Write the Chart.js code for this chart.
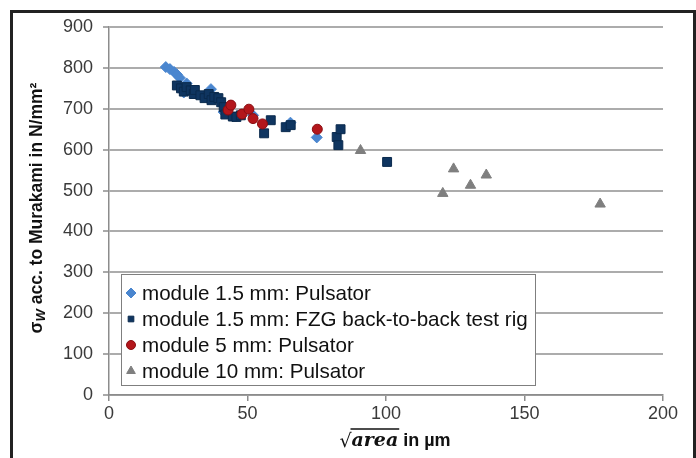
<!DOCTYPE html>
<html>
<head>
<meta charset="utf-8">
<script src="https://cdn.jsdelivr.net/npm/chart.js@4.4.0/dist/chart.umd.min.js"></script>
<style>
  html, body { margin: 0; padding: 0; background: #fff; overflow: hidden; }
  #wrap { position: relative; width: 696px; height: 458px; }
  #frame { position: absolute; left: 10px; top: 10px; width: 680px; height: 500px; border: 3px solid #222; pointer-events: none; }
</style>
</head>
<body>
<div id="wrap">
  <canvas id="chart" width="696" height="458"></canvas>
  <div id="frame"></div>
</div>
<script>
// data: [sqrt(area) in µm, sigma_W in N/mm²]
const pulsator15 = [[20.5, 802], [22, 797], [23.5, 790], [24.5, 784], [25.5, 776], [27, 740], [28, 762], [36.8, 748], [41.4, 692], [52, 684], [65.5, 666], [75, 630]];
const fzg15 = [[24.5, 757], [26, 750], [27, 742], [28, 753], [29.5, 745], [30.6, 736], [31, 746], [33, 733], [34.5, 726], [36, 736], [37, 721], [38, 729], [39.5, 726], [40.5, 716], [41.4, 704], [42, 686], [44.7, 681], [46, 680], [47.6, 684], [56, 640], [58.4, 672], [63.8, 655], [65.6, 660], [82.2, 631], [82.8, 611], [83.6, 650], [100.4, 570]];
const pulsator5 = [[43, 697], [44, 709], [48, 687], [50.5, 699], [52, 676], [55.4, 663], [75.2, 650]];
const pulsator10 = [[90.8, 598], [120.5, 493], [124.4, 553], [130.5, 513], [136.2, 538], [177.3, 467]];

const seriesNames = ["module 1.5 mm: Pulsator", "module 1.5 mm: FZG back-to-back test rig", "module 5 mm: Pulsator", "module 10 mm: Pulsator"];
const xTicks = [0, 50, 100, 150, 200];
const yTicks = [0, 100, 200, 300, 400, 500, 600, 700, 800, 900];

const toPts = arr => arr.map(p => ({ x: p[0], y: p[1] }));
const styles = [
  { pointStyle: "rectRot", color: "#4a86cf", border: "#4a86cf", radius: 5.5 },
  { pointStyle: "rect", color: "#0f3560", border: "#0a2a4d", radius: 6.3 },
  { pointStyle: "circle", color: "#b3161b", border: "#8a0e12", radius: 5 },
  { pointStyle: "triangle", color: "#7f7f7f", border: "#7f7f7f", radius: 6 }
];
const allData = [pulsator15, fzg15, pulsator5, pulsator10];

const datasets = allData.map((d, i) => ({
  label: seriesNames[i],
  data: toPts(d),
  pointStyle: styles[i].pointStyle,
  backgroundColor: styles[i].color,
  borderColor: styles[i].border,
  borderWidth: 1,
  pointRadius: styles[i].radius,
  order: 4 - i
}));

const FONT = "'Liberation Sans', Arial, sans-serif";

// axis titles + legend box drawn on the canvas
const extras = {
  id: "extras",
  afterDraw(chart) {
    const ctx = chart.ctx;
    ctx.save();

    // y title: σ_W acc. to Murakami in N/mm²
    ctx.translate(37, 208);
    ctx.rotate(-Math.PI / 2);
    ctx.fillStyle = "#111";
    ctx.textBaseline = "middle";
    const fMain = "bold 17.5px " + FONT;
    const fSub = "italic bold 13px " + FONT;
    const rest = " acc. to Murakami in N/mm²";
    ctx.font = fMain;
    const wSig = ctx.measureText("σ").width;
    const wRest = ctx.measureText(rest).width;
    ctx.font = fSub;
    const wSub = ctx.measureText("W").width;
    let x0 = -(wSig + wSub + wRest) / 2;
    ctx.textAlign = "left";
    ctx.font = fMain;
    ctx.fillText("σ", x0, 0);
    ctx.font = fSub;
    ctx.fillText("W", x0 + wSig, 4);
    ctx.font = fMain;
    ctx.fillText(rest, x0 + wSig + wSub, 0);
    ctx.restore();

    // x title: √area in µm
    ctx.save();
    ctx.fillStyle = "#111";
    ctx.strokeStyle = "#111";
    ctx.textBaseline = "alphabetic";
    const fRad = "19px 'DejaVu Serif', serif";
    const fArea = "italic bold 19px 'DejaVu Serif', serif";
    const fIn = "bold 18px " + FONT;
    ctx.font = fRad;
    const wRad = ctx.measureText("√").width;
    ctx.font = fArea;
    const wArea = ctx.measureText("area").width;
    ctx.font = fIn;
    const wIn = ctx.measureText(" in µm").width;
    let xs = 395 - (wRad + wArea + wIn) / 2;
    const base = 446;
    ctx.font = fRad;
    ctx.fillText("√", xs, base + 1);
    ctx.font = fArea;
    ctx.fillText("area", xs + wRad, base);
    ctx.lineWidth = 1.3;
    ctx.beginPath();
    ctx.moveTo(xs + wRad - 1, base - 17);
    ctx.lineTo(xs + wRad + wArea + 1, base - 17);
    ctx.stroke();
    ctx.font = fIn;
    ctx.fillText(" in µm", xs + wRad + wArea, base);
    ctx.restore();

    // legend box inside the plot
    ctx.save();
    ctx.fillStyle = "#fff";
    ctx.fillRect(121, 274, 414, 111);
    ctx.strokeStyle = "#7f7f7f";
    ctx.lineWidth = 1;
    ctx.strokeRect(121.5, 274.5, 414, 111);
    const rowsY = [293, 319, 345, 371];
    const legendRad = [5, 4, 4.5, 5];
    ctx.font = "20.6px " + FONT;
    ctx.textBaseline = "middle";
    ctx.textAlign = "left";
    seriesNames.forEach((name, i) => {
      ctx.fillStyle = styles[i].color;
      ctx.strokeStyle = styles[i].border;
      Chart.helpers.drawPoint(ctx, { pointStyle: styles[i].pointStyle, radius: legendRad[i], borderWidth: 1 }, 131, rowsY[i]);
      ctx.fillStyle = "#111";
      ctx.fillText(name, 142, rowsY[i] + 1);
    });
    ctx.restore();
  }
};

new Chart(document.getElementById("chart"), {
  type: "scatter",
  data: { datasets },
  options: {
    responsive: false,
    animation: false,
    layout: { padding: { left: 0, right: 33, top: 27, bottom: 0 } },
    plugins: { legend: { display: false }, tooltip: { enabled: false } },
    scales: {
      x: {
        type: "linear",
        min: 0, max: 200,
        afterBuildTicks: s => { s.ticks = xTicks.map(v => ({ value: v })); },
        afterFit: s => { s.height = 63; },
        grid: { drawOnChartArea: false, drawTicks: true, tickLength: 6, color: "#8c8c8c", lineWidth: 1.5 },
        border: { color: "#8c8c8c", width: 1.5 },
        ticks: { color: "#3a3a3a", font: { family: FONT, size: 18 }, padding: 2, maxRotation: 0 }
      },
      y: {
        type: "linear",
        min: 0, max: 900,
        afterBuildTicks: s => { s.ticks = yTicks.map(v => ({ value: v })); },
        afterFit: s => { s.width = 109; },
        grid: { color: "#acacac", lineWidth: 2, tickLength: 6, tickColor: "#8c8c8c", tickWidth: 1.5 },
        border: { color: "#8c8c8c", width: 1.5 },
        ticks: { color: "#3a3a3a", font: { family: FONT, size: 18 }, padding: 10 }
      }
    }
  },
  plugins: [extras]
});
</script>
</body>
</html>
